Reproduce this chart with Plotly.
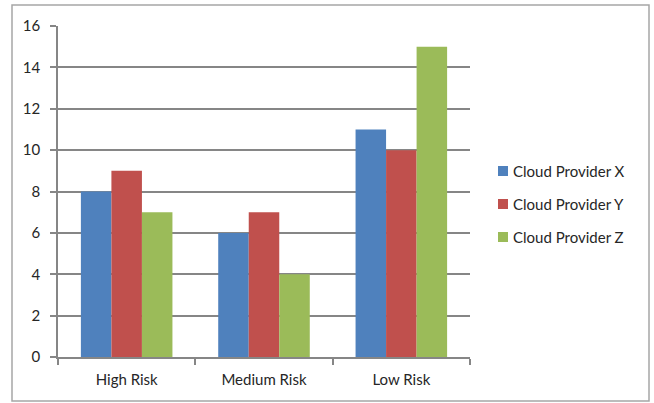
import plotly.graph_objects as go

categories = ["High Risk", "Medium Risk", "Low Risk"]
provider_x = [8, 6, 11]
provider_y = [9, 7, 10]
provider_z = [7, 4, 15]
series_names = ["Cloud Provider X", "Cloud Provider Y", "Cloud Provider Z"]
series_colors = ["#4F81BD", "#C0504D", "#9BBB59"]

W, H = 654, 403
L, R, T, B = 58, 184, 26, 46
plot_w = W - L - R
plot_h = H - T - B

fig = go.Figure()
for name, vals, col in zip(series_names, [provider_x, provider_y, provider_z], series_colors):
    fig.add_trace(go.Bar(
        x=categories, y=vals, name=name, marker_color=col,
        marker_line_width=0, showlegend=False,
    ))


# pixel positions converted to paper coords
def px_x(p):
    return (p - L) / plot_w


def px_y(p):
    return (H - B - p) / plot_h


# outer chart frame
fig.add_shape(type="rect", xref="paper", yref="paper",
              x0=px_x(12), x1=px_x(649), y0=px_y(401), y1=px_y(5),
              line=dict(color="#A6A6A6", width=1.5), fillcolor="rgba(0,0,0,0)",
              layer="below")

font = dict(family="Lato, 'Open Sans', sans-serif", size=15, color="#262626")

# legend: small square key followed by the series name
legend_rows = [171, 204, 237]
for name, col, yc in zip(series_names, series_colors, legend_rows):
    fig.add_shape(type="rect", xref="paper", yref="paper",
                  x0=px_x(498), x1=px_x(508), y0=px_y(yc + 5), y1=px_y(yc - 5),
                  line=dict(width=0), fillcolor=col)
    fig.add_annotation(x=px_x(511), y=px_y(yc), xref="paper", yref="paper",
                       text=name, showarrow=False, xanchor="left", yanchor="middle",
                       font=font)

fig.update_layout(
    width=W, height=H,
    margin=dict(l=L, r=R, t=T, b=B, pad=0),
    paper_bgcolor="white", plot_bgcolor="white",
    barmode="group", bargap=1/3, bargroupgap=0,
    font=font,
    showlegend=False,
    xaxis=dict(
        showline=True, linecolor="#868686", linewidth=1.5,
        ticks="outside", tickson="boundaries", ticklen=6, tickcolor="#868686",
        tickwidth=1.5, showgrid=False, tickfont=font, ticklabelstandoff=8,
    ),
    yaxis=dict(
        range=[0, 16], dtick=2, tick0=0,
        showline=True, linecolor="#868686", linewidth=1.5,
        ticks="outside", ticklen=6, tickcolor="#868686", tickwidth=1.5,
        showgrid=True, gridcolor="#868686", gridwidth=1.5,
        zeroline=False, tickfont=font, ticklabelstandoff=7,
    ),
)

fig.write_html("out.html")
